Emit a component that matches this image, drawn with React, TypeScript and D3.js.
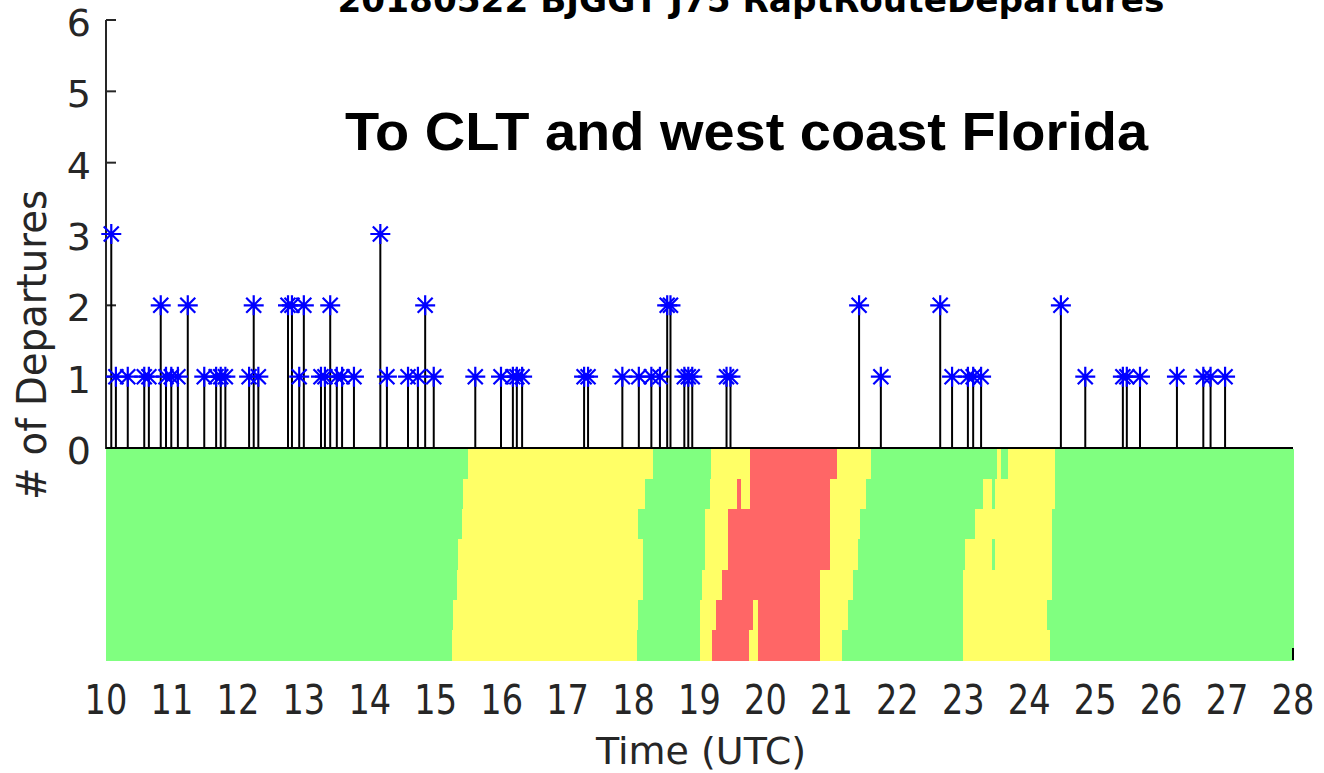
import React from 'react';
import * as d3 from 'd3';

// departures per time (hours UTC)
const departureHours = [
  10.08, 10.15, 10.33, 10.58, 10.65, 10.83, 10.91, 10.99, 11.09, 11.24,
  11.49, 11.67, 11.74, 11.81, 12.17, 12.24, 12.31, 12.76, 12.82, 12.93,
  13.0, 13.26, 13.32, 13.4, 13.5, 13.58, 13.76, 14.16, 14.26, 14.58,
  14.73, 14.84, 14.97, 15.6, 15.99, 16.17, 16.23, 16.31, 17.25, 17.31,
  17.83, 18.08, 18.27, 18.4, 18.51, 18.56, 18.77, 18.83, 18.89, 19.41,
  19.47, 21.42, 21.75, 22.65, 22.83, 23.07, 23.15, 23.27, 24.48, 24.85,
  25.42, 25.48, 25.68, 26.24, 26.64, 26.75, 26.97,
];
const departureCounts = [
  3, 1, 1, 1, 1, 2, 1, 1, 1, 2,
  1, 1, 1, 1, 1, 2, 1, 2, 2, 1,
  2, 1, 1, 2, 1, 1, 1, 3, 1, 1,
  1, 2, 1, 1, 1, 1, 1, 1, 1, 1,
  1, 1, 1, 1, 2, 2, 1, 1, 1, 1,
  1, 2, 1, 2, 1, 1, 1, 1, 2, 1,
  1, 1, 1, 1, 1, 1, 1,
];

const xTicks = [10, 11, 12, 13, 14, 15, 16, 17, 18, 19, 20, 21, 22, 23, 24, 25, 26, 27, 28];
const yTicks = [0, 1, 2, 3, 4, 5, 6];

// weather band: each row is a list of [start hour, level] (0 green, 1 yellow, 2 red)
const bandRow0 = [[10, 0], [15.49, 1], [18.3, 0], [19.18, 1], [19.77, 2], [21.09, 1], [21.6, 0], [23.51, 1], [23.57, 0], [23.68, 1], [24.39, 0]];
const bandRow1 = [[10, 0], [15.41, 1], [18.18, 0], [19.16, 1], [19.57, 2], [19.63, 1], [19.77, 2], [20.98, 1], [21.53, 0], [23.3, 1], [23.44, 0], [23.48, 1], [24.39, 0]];
const bandRow2 = [[10, 0], [15.4, 1], [18.07, 0], [19.08, 1], [19.43, 2], [20.98, 1], [21.44, 0], [23.18, 1], [24.35, 0]];
const bandRow3 = [[10, 0], [15.34, 1], [18.14, 0], [19.08, 1], [19.43, 2], [20.98, 1], [21.41, 0], [23.03, 1], [23.44, 0], [23.48, 1], [24.35, 0]];
const bandRow4 = [[10, 0], [15.32, 1], [18.14, 0], [19.04, 1], [19.34, 2], [20.83, 1], [21.33, 0], [23.0, 1], [24.35, 0]];
const bandRow5 = [[10, 0], [15.26, 1], [18.07, 0], [19.01, 1], [19.25, 2], [19.81, 1], [19.89, 2], [20.83, 1], [21.25, 0], [23.0, 1], [24.27, 0]];
const bandRow6 = [[10, 0], [15.25, 1], [18.05, 0], [19.01, 1], [19.19, 2], [19.75, 1], [19.89, 2], [20.83, 1], [21.16, 0], [23.0, 1], [24.32, 0]];
const bandRows = [bandRow0, bandRow1, bandRow2, bandRow3, bandRow4, bandRow5, bandRow6];

const levelColors = ['#80ff80', '#ffff66', '#ff6666'];

const titleText = '20180522 BJGGT J75 RaptRouteDepartures';
const noteText = 'To CLT and west coast Florida';

const W = 1324;
const H = 773;

export default function App() {
  const x = d3.scaleLinear().domain([10, 28]).range([106, 1293]);
  const y = d3.scaleLinear().domain([0, 6]).range([448, 20]);
  const rowY = d3.scaleBand<number>().domain(d3.range(bandRows.length)).range([449, 660]);

  const star = 'M-10,0H10M0,-10V10M-7.5,-7.5L7.5,7.5M-7.5,7.5L7.5,-7.5';
  const font = '"DejaVu Sans", sans-serif';

  return (
    <div style={{ position: 'absolute', left: 0, top: 0 }}>
      <svg width={W} height={H} style={{ display: 'block', background: '#fff' }}>
        {/* weather band */}
        <g shapeRendering="crispEdges">
          {bandRows.map((row, i) =>
            row.map((seg, k) => {
              const end = k + 1 < row.length ? row[k + 1][0] : 28;
              return (
                <rect
                  key={i + '-' + k}
                  x={x(seg[0])}
                  y={rowY(i)}
                  width={x(end) - x(seg[0]) + 0.5}
                  height={rowY.bandwidth() + 0.5}
                  fill={levelColors[seg[1]]}
                />
              );
            })
          )}
        </g>
        <line x1={1293} x2={1293} y1={648} y2={660} stroke="#000" strokeWidth={2} />

        {/* title, cropped at top */}
        <text
          x={751}
          y={12}
          textAnchor="middle"
          fontFamily={font}
          fontWeight="bold"
          fontSize={34}
          textLength={827}
          lengthAdjust="spacingAndGlyphs"
          fill="#000"
        >
          {titleText}
        </text>

        {/* y axis */}
        <line x1={106} x2={106} y1={y(6)} y2={y(0) + 1} stroke="#262626" strokeWidth={2} />
        {yTicks.map((t) => (
          <g key={t}>
            <line x1={106} x2={116} y1={y(t)} y2={y(t)} stroke="#262626" strokeWidth={2} />
            <text
              x={91}
              y={y(t)}
              dy="0.42em"
              textAnchor="end"
              fontFamily={font}
              fontSize={38}
              fill="#262626"
            >
              {t}
            </text>
          </g>
        ))}
        <text
          transform={`translate(46,345) rotate(-90)`}
          textAnchor="middle"
          fontFamily={font}
          fontSize={40}
          textLength={310}
          lengthAdjust="spacingAndGlyphs"
          fill="#262626"
        >
          # of Departures
        </text>

        {/* stems */}
        {departureHours.map((h, i) => (
          <line
            key={'s' + i}
            x1={x(h)}
            x2={x(h)}
            y1={y(0)}
            y2={y(departureCounts[i])}
            stroke="#000"
            strokeWidth={2}
          />
        ))}
        <line x1={106} x2={1293} y1={y(0)} y2={y(0)} stroke="#000" strokeWidth={2} />
        {departureHours.map((h, i) => (
          <path
            key={'m' + i}
            d={star}
            transform={`translate(${x(h)},${y(departureCounts[i])})`}
            stroke="#0000ff"
            strokeWidth={2.2}
            fill="none"
          />
        ))}

        {/* x tick labels, narrow as in the original */}
        {xTicks.map((t) => (
          <text
            key={'x' + t}
            transform={`translate(${x(t)},714) scale(0.82,1)`}
            textAnchor="middle"
            fontFamily={font}
            fontSize={41}
            fill="#262626"
          >
            {t}
          </text>
        ))}
        <text x={701} y={764} textAnchor="middle" fontFamily={font} fontSize={38} fill="#262626">
          Time (UTC)
        </text>

        {/* annotation */}
        <text
          x={345}
          y={150}
          fontFamily='"Liberation Sans", Arial, sans-serif'
          fontWeight="bold"
          fontSize={53}
          textLength={803}
          lengthAdjust="spacingAndGlyphs"
          fill="#000"
        >
          {noteText}
        </text>
      </svg>
    </div>
  );
}
